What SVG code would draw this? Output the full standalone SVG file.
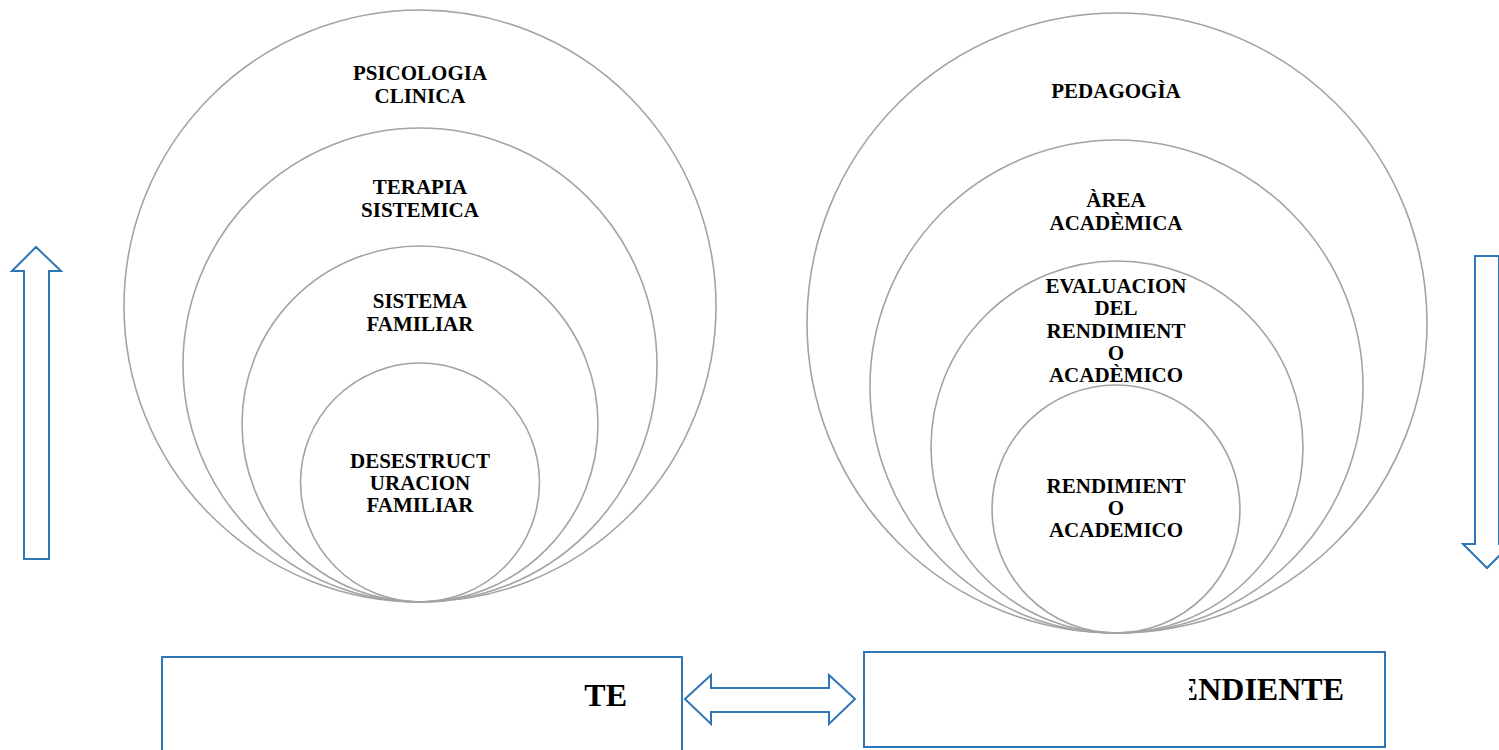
<svg xmlns="http://www.w3.org/2000/svg" width="1499" height="750" viewBox="0 0 1499 750">
<defs>
<style>
.c{fill:none;stroke:#a3a3a3;stroke-width:1.6}
.t{font-family:"Liberation Serif","Times New Roman",serif;font-weight:bold;font-size:21px;text-anchor:middle;fill:#000}
.b{font-family:"Liberation Serif","Times New Roman",serif;font-weight:bold;font-size:32px;text-anchor:end;fill:#000}
.a{fill:#fff;stroke:#2E75B6;stroke-width:2;stroke-linejoin:miter}
.r{fill:#fff;stroke:#2E75B6;stroke-width:2}
</style>
<clipPath id="clipR"><rect x="1189" y="640" width="200" height="100"/></clipPath>
</defs>
<rect width="1499" height="750" fill="#fff"/>
<g id="left-circles">
<g id="psicologia"><circle class="c" cx="420" cy="306" r="296"/><text class="t" x="420" y="80">PSICOLOGIA</text><text class="t" x="420" y="103">CLINICA</text></g>
<g id="terapia"><circle class="c" cx="420" cy="365" r="237"/><text class="t" x="420" y="194">TERAPIA</text><text class="t" x="420" y="217">SISTEMICA</text></g>
<g id="sistema"><circle class="c" cx="420" cy="424" r="178"/><text class="t" x="420" y="308">SISTEMA</text><text class="t" x="420" y="331">FAMILIAR</text></g>
<g id="desestructuracion"><circle class="c" cx="420" cy="482.5" r="119.5"/><text class="t" x="420" y="468">DESESTRUCT</text><text class="t" x="420" y="490">URACION</text><text class="t" x="420" y="512">FAMILIAR</text></g>
</g>
<g id="right-circles">
<g id="pedagogia"><circle class="c" cx="1117" cy="323" r="310"/><text class="t" x="1116" y="98">PEDAGOGÌA</text></g>
<g id="area"><circle class="c" cx="1116.5" cy="386.5" r="246.5"/><text class="t" x="1116" y="207">ÀREA</text><text class="t" x="1116" y="230">ACADÈMICA</text></g>
<g id="evaluacion"><circle class="c" cx="1117" cy="447" r="186"/><text class="t" x="1116" y="293">EVALUACION</text><text class="t" x="1116" y="315">DEL</text><text class="t" x="1116" y="338">RENDIMIENT</text><text class="t" x="1116" y="360">O</text><text class="t" x="1116" y="382">ACADÈMICO</text></g>
<g id="rendimiento"><circle class="c" cx="1116" cy="509" r="124"/><text class="t" x="1116" y="493">RENDIMIENT</text><text class="t" x="1116" y="515">O</text><text class="t" x="1116" y="537">ACADEMICO</text></g>
</g>
<g id="box-left"><rect class="r" x="162" y="657" width="520" height="100"/><text class="b" x="627" y="706">TE</text></g>
<g id="box-right"><rect class="r" x="864" y="652" width="521" height="95"/><text class="b" x="1344" y="700" clip-path="url(#clipR)">ENDIENTE</text></g>
<g id="connectors">
<polygon class="a" points="36,247 61,271 49,271 49,559 24,559 24,271 12,271"/>
<polygon class="a" points="1475,256 1499,256 1499,544 1511,544 1487,568 1463,544 1475,544"/>
<polygon class="a" points="685,699 711,675 711,688 829,688 829,675 855,699 829,724 829,712 711,712 711,724"/>
</g>
</svg>
